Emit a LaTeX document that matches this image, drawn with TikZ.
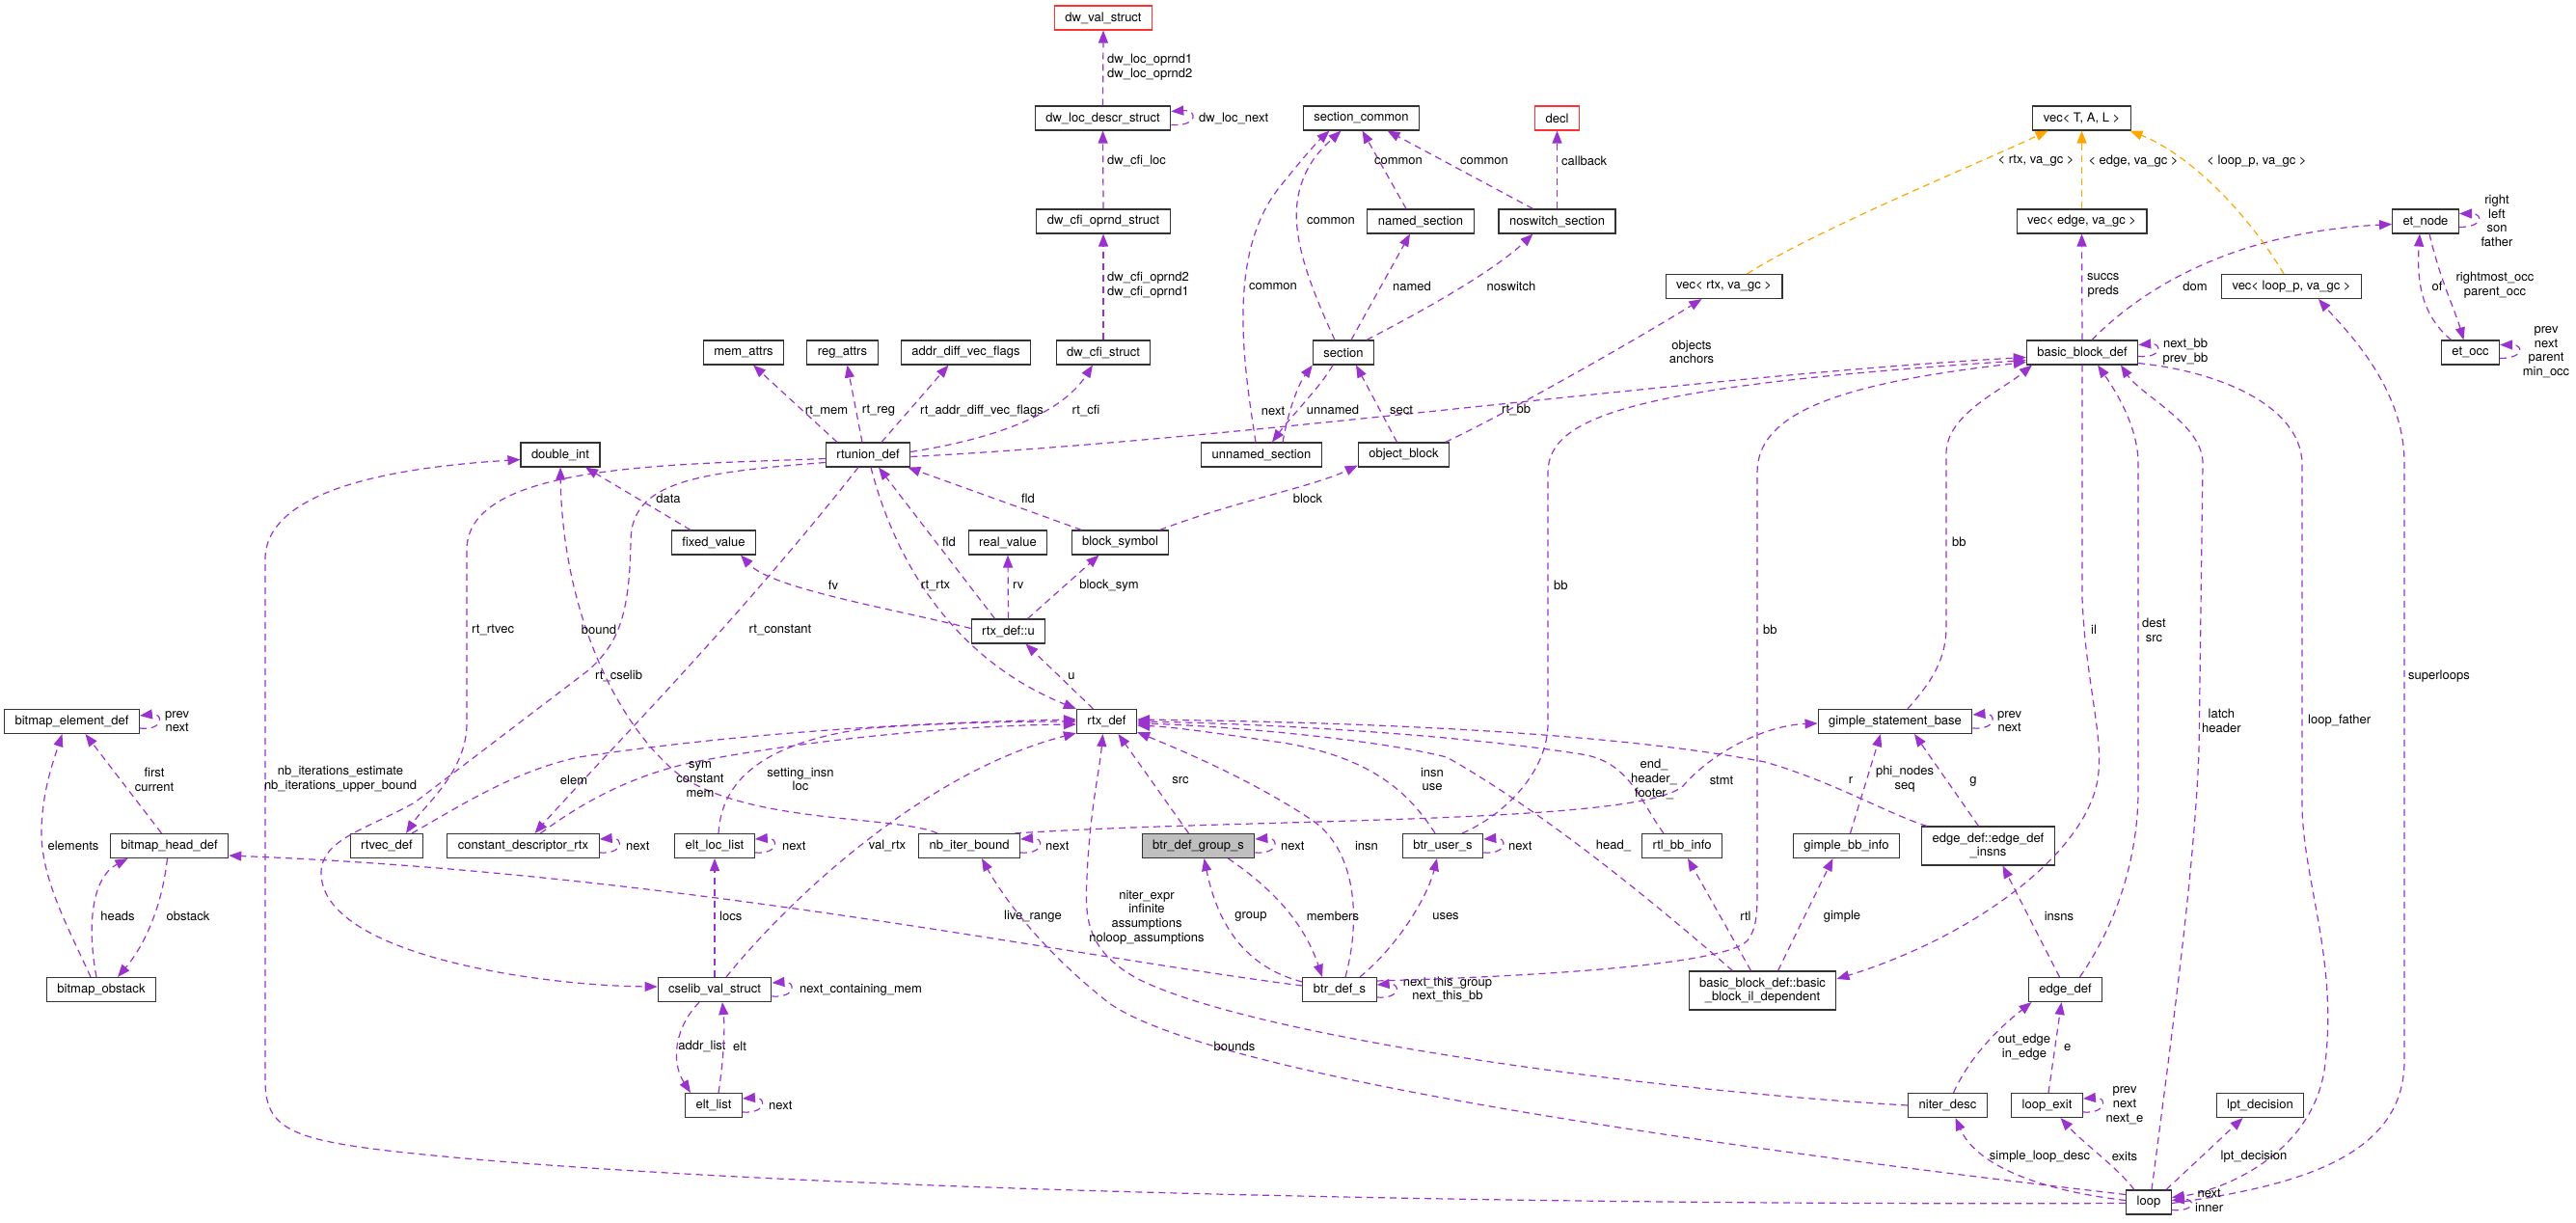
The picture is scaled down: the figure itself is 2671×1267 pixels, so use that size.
\documentclass[tikz,border=0pt]{standalone}
\usepackage{fontspec}
\setmainfont{TeX Gyre Heros}
\usetikzlibrary{arrows.meta}
\definecolor{edgec}{HTML}{9A32CD}
\definecolor{orng}{HTML}{FFA500}
\definecolor{grayfill}{HTML}{BFBFBF}
\definecolor{redb}{HTML}{FF3030}
\begin{document}
\begin{tikzpicture}[x=1pt,y=-1pt,
 every node/.style={font=\fontsize{13}{14.7}\selectfont},
 box/.style={draw=black!80,line width=1.1pt,fill=white,minimum height=25pt,inner xsep=11pt,inner ysep=0pt},
 box2/.style={box,minimum height=40pt,align=center},
 edg/.style={draw=edgec,line width=1.2pt,dash pattern=on 7pt off 5pt,-{Triangle[length=13pt,width=10pt]}},
 oedg/.style={edg,draw=orng},
 lbl/.style={inner sep=0pt,align=center},
 lw/.style={lbl,anchor=west}]
\useasboundingbox (0,0) rectangle (2671,1267);
% ---------------- nodes ----------------
\node[box,draw=redb] (dwval) at (1144,18.5) {dw\_val\_struct};
\node[box] (dwloc) at (1143.5,122.5) {dw\_loc\_descr\_struct};
\node[box] (dwcfiop) at (1144,229.5) {dw\_cfi\_oprnd\_struct};
\node[box] (memattrs) at (771,365.5) {mem\_attrs};
\node[box] (regattrs) at (873.5,365.5) {reg\_attrs};
\node[box] (addrdiff) at (1001.5,365.5) {addr\_diff\_vec\_flags};
\node[box] (dwcfi) at (1144,365.5) {dw\_cfi\_struct};
\node[box] (seccommon) at (1411.5,122.5) {section\_common};
\node[box,draw=redb] (decl) at (1614.5,122.5) {decl};
\node[box] (namedsec) at (1473,229.5) {named\_section};
\node[box] (noswitch) at (1614.5,229.5) {noswitch\_section};
\node[box] (section) at (1393,365.5) {section};
\node[box] (vecrtx) at (1787.5,297) {vec< rtx, va\_gc >};
\node[box] (vectal) at (2158.5,122.5) {vec< T, A, L >};
\node[box] (vecedge) at (2158.5,229.5) {vec< edge, va\_gc >};
\node[box] (etnode) at (2515,229.5) {et\_node};
\node[box] (vecloop) at (2376,297) {vec< loop\_p, va\_gc >};
\node[box] (bbdef) at (2159,365.5) {basic\_block\_def};
\node[box] (etocc) at (2561.5,365.5) {et\_occ};
\node[box] (doubleint) at (581,471.5) {double\_int};
\node[box] (bmelem) at (74.5,748) {bitmap\_element\_def};
\node[box] (rtunion) at (900,471.5) {rtunion\_def};
\node[box] (unnamed) at (1308,471.5) {unnamed\_section};
\node[box] (objblock) at (1455.5,471.5) {object\_block};
\node[box] (fixedval) at (740,562.5) {fixed\_value};
\node[box] (realval) at (1045,562.5) {real\_value};
\node[box] (blocksym) at (1161.5,562.5) {block\_symbol};
\node[box] (rtxu) at (1045.5,654.5) {rtx\_def::u};
\node[box] (rtx) at (1147.5,748) {rtx\_def};
\node[box] (gsb) at (1965,748) {gimple\_statement\_base};
\node[box] (bmhead) at (175.5,877) {bitmap\_head\_def};
\node[box] (rtvec) at (401,877) {rtvec\_def};
\node[box] (constdesc) at (542.5,877) {constant\_descriptor\_rtx};
\node[box] (bmobst) at (105,1026) {bitmap\_obstack};
\node[box] (eltloc) at (741,877) {elt\_loc\_list};
\node[box] (nbiter) at (1005,877) {nb\_iter\_bound};
\node[box,fill=grayfill] (btrgroup) at (1242.5,877) {btr\_def\_group\_s};
\node[box] (cselib) at (741,1026) {cselib\_val\_struct};
\node[box] (eltlist) at (740,1146) {elt\_list};
\node[box] (btruser) at (1496,877) {btr\_user\_s};
\node[box] (rtlbb) at (1744,877) {rtl\_bb\_info};
\node[box] (gimplebb) at (1914.5,877) {gimple\_bb\_info};
\node[box2] (edgeinsns) at (2061.5,877) {edge\_def::edge\_def\\\_insns};
\node[box] (btrdef) at (1389,1026) {btr\_def\_s};
\node[box2] (ildep) at (1827.5,1027) {basic\_block\_def::basic\\\_block\_il\_dependent};
\node[box] (niter) at (2019.5,1146) {niter\_desc};
\node[box] (edgedef) at (2141.5,1026) {edge\_def};
\node[box] (loopexit) at (2122.5,1146) {loop\_exit};
\node[box] (lpt) at (2343.5,1146) {lpt\_decision};
\node[box] (loop) at (2228,1246.5) {loop};
% ---------------- dwarf chain ----------------
\draw[edg] (dwloc.north) -- (dwval.south);
\node[lw] (l1) at (1148,70) {dw\_loc\_oprnd1\\dw\_loc\_oprnd2};
\draw[edg] ([yshift=-7pt]dwloc.east) .. controls +(28,2) and +(28,-2) .. ([yshift=7pt]dwloc.east);
\node[lw] (l2) at (1243,122.5) {dw\_loc\_next};
\draw[edg] (dwcfiop.north) -- (dwloc.south);
\node[lw] (l3) at (1148,167) {dw\_cfi\_loc};
\draw[edg] (dwcfi.north) -- (dwcfiop.south);
\node[lw] (l4) at (1148,296) {dw\_cfi\_oprnd2\\dw\_cfi\_oprnd1};
% ---------------- rtunion_def ----------------
\draw[edg] ([xshift=-32pt]rtunion.north) -- ([xshift=10pt]memattrs.south);
\node[lbl] (l5) at (857,426) {rt\_mem};
\draw[edg] ([xshift=-6pt]rtunion.north) -- ([xshift=5pt]regattrs.south);
\node[lbl] (l6) at (911,426) {rt\_reg};
\draw[edg] ([xshift=14pt]rtunion.north) -- ([xshift=-18pt]addrdiff.south);
\node[lbl] (l7) at (1018,426) {rt\_addr\_diff\_vec\_flags};
\draw[edg] ([yshift=3pt]rtunion.east) .. controls (1030,455) and (1100,430) .. ([xshift=-11pt]dwcfi.south);
\node[lbl] (l8) at (1126,426) {rt\_cfi};
\draw[edg] ([yshift=-2pt]rtunion.east) .. controls (1300,455) and (1750,390) .. ([yshift=-5pt]bbdef.west);
\node[lbl] (l9) at (1572,425) {rt\_bb};
\draw[edg] ([yshift=-4pt]rtunion.west) .. controls (700,482) and (484,480) .. (484,570) -- (484,750) .. controls (484,800) and (440,835) .. ([xshift=20pt]rtvec.north);
\node[lw] (l10) at (489,653) {rt\_rtvec};
\draw[edg] ([yshift=-8pt]rtunion.west) .. controls (720,490) and (655,500) .. (654,560) .. controls (653,640) and (640,668) .. (610,695) -- (430,832) .. controls (380,860) and (333,870) .. (333,905) .. controls (333,990) and (560,1022) .. ([yshift=3pt]cselib.west);
\node[lw] (l11) at (617,701) {rt\_cselib};
\draw[edg] ([xshift=-10pt]rtunion.south) .. controls (760,650) and (620,790) .. ([xshift=12pt]constdesc.north);
\node[lbl] (l12) at (809,653) {rt\_constant};
\draw[edg] ([xshift=3pt]rtunion.south) .. controls (925,570) and (980,680) .. (rtx.north west);
\node[lbl] (l13) at (970,607) {rt\_rtx};
\draw[edg] ([xshift=-14pt]rtxu.north) -- ([xshift=11pt]rtunion.south);
\node[lbl] (l14) at (984,562) {fld};
\draw[edg] ([xshift=-40pt]blocksym.north) -- ([xshift=-3pt]rtunion.south east);
\node[lbl] (l15) at (1066,517) {fld};
\draw[edg] ([xshift=-10pt]blocksym.north east) .. controls (1280,520) and (1360,505) .. ([yshift=2pt]objblock.south west);
\node[lbl] (l16) at (1356,517) {block};
\draw[edg] ([yshift=3pt]rtxu.west) .. controls (920,630) and (800,610) .. ([xshift=28pt]fixedval.south);
\node[lbl] (l17) at (864,607) {fv};
\draw[edg] (rtxu.north) -- (realval.south);
\node[lw] (l18) at (1050,607) {rv};
\draw[edg] ([xshift=20pt]rtxu.north) -- ([xshift=-22pt]blocksym.south);
\node[lbl] (l19) at (1150,607) {block\_sym};
\draw[edg] ([xshift=-14pt]rtx.north) -- ([xshift=18pt]rtxu.south);
\node[lbl] (l20) at (1111,701) {u};
\draw[edg] ([xshift=-24pt]fixedval.north) -- ([xshift=26pt]doubleint.south);
\node[lbl] (l21) at (693,517) {data};
% ---------------- double_int ----------------
\draw[edg] ([xshift=-33pt]nbiter.north) .. controls (930,845) and (770,855) .. (700,800) .. controls (630,740) and (583,620) .. (doubleint.south);
\node[lbl] (l22) at (621,653) {bound};
\draw[edg] ([yshift=-1pt]loop.west) .. controls (1600,1250) and (800,1235) .. (420,1195) .. controls (300,1182) and (275,1170) .. (275,1120) -- (275,580) .. controls (275,510) and (400,485) .. ([yshift=-5pt]doubleint.west);
\node[lbl] (l23) at (353,808) {nb\_iterations\_estimate\\nb\_iterations\_upper\_bound};
% ---------------- bitmaps ----------------
\draw[edg] ([xshift=-8pt]bmhead.north) -- ([xshift=14pt]bmelem.south);
\node[lbl] (l24) at (160,808) {first\\current};
\draw[edg] ([xshift=-11pt]bmobst.north) .. controls (70,960) and (42,910) .. (43,860) .. controls (44,820) and (55,790) .. ([xshift=-10pt]bmelem.south);
\node[lbl] (l25) at (76,877) {elements};
\draw[edg] ([xshift=-5pt]bmobst.north) .. controls (90,960) and (95,910) .. ([xshift=-43pt]bmhead.south);
\node[lbl] (l26) at (122,950) {heads};
\draw[edg] ([xshift=-2pt]bmhead.south) .. controls (168,940) and (150,980) .. ([xshift=17pt]bmobst.north);
\node[lbl] (l27) at (195,950) {obstack};
\draw[edg] ([yshift=-7pt]bmelem.east) .. controls +(25,3) and +(25,-3) .. ([yshift=6pt]bmelem.east);
\node[lw] (l28) at (171,748) {prev\\next};
\draw[edg] ([yshift=4pt]btrdef.west) .. controls (1100,990) and (700,905) .. ([yshift=3pt]bmhead.south east);
\node[lbl] (l29) at (1071,950) {live\_range};
% ---------------- nb_iter_bound ----------------
\draw[edg] ([yshift=-7pt]nbiter.east) .. controls +(25,2) and +(25,-2) .. ([yshift=7pt]nbiter.east);
\node[lw] (l30) at (1084,877) {next};
\draw[edg] ([xshift=-6pt]nbiter.north east) .. controls (1300,848) and (1700,855) .. (1745,815) .. controls (1775,780) and (1830,752) .. ([yshift=-2pt]gsb.west);
\node[lbl] (l31) at (1785,809) {stmt};
% ---------------- gimple ----------------
\draw[edg] ([yshift=-7pt]gsb.east) .. controls +(25,2) and +(25,-2) .. ([yshift=7pt]gsb.east);
\node[lw] (l32) at (2071,748) {prev\\next};
\draw[edg] ([xshift=13pt]gsb.north) .. controls (1995,715) and (2018,690) .. (2018,650) -- (2018,470) .. controls (2018,430) and (2075,405) .. ([xshift=-52pt]bbdef.south);
\node[lw] (l33) at (2024,562) {bb};
\draw[edg] ([xshift=4pt]gimplebb.north) -- ([xshift=-15pt]gsb.south);
\node[lbl] (l34) at (1975,808) {phi\_nodes\\seq};
\draw[edg] ([xshift=-10pt]edgeinsns.north) -- ([xshift=20pt]gsb.south);
\node[lbl] (l35) at (2046,810) {g};
% ---------------- into rtx_def ----------------
\draw[edg] ([xshift=6pt]edgeinsns.north west) .. controls (1960,845) and (1900,810) .. (1830,790) .. controls (1650,755) and (1350,748) .. ([yshift=2pt]rtx.east);
\node[lbl] (l36) at (1919,809) {r};
\draw[edg] ([xshift=-8pt]btruser.north) .. controls (1460,820) and (1420,785) .. (1330,770) .. controls (1260,760) and (1220,754) .. ([yshift=-4pt]rtx.east);
\node[lbl] (l37) at (1485,808) {insn\\use};
\draw[edg] ([xshift=-19pt]rtlbb.north) .. controls (1700,830) and (1690,790) .. (1640,782) .. controls (1500,760) and (1300,750) .. (rtx.east);
\node[lbl] (l38) at (1715,808) {end\_\\header\_\\footer\_};
\draw[edg] ([xshift=-31pt]ildep.north) .. controls (1680,905) and (1580,830) .. (1500,785) .. controls (1420,765) and (1260,752) .. ([yshift=-2pt]rtx.east);
\node[lbl] (l39) at (1673,877) {head\_};
\draw[edg] ([xshift=6pt]btrdef.north) .. controls (1412,950) and (1405,880) .. (1360,850) .. controls (1300,810) and (1230,780) .. ([yshift=2pt]rtx.south east);
\node[lbl] (l40) at (1417,877) {insn};
\draw[edg] ([xshift=-10pt]btrgroup.north) -- ([xshift=12pt]rtx.south);
\node[lbl] (l41) at (1224,809) {src};
\draw[edg] (niter.west) .. controls (1700,1130) and (1300,1075) .. (1180,1015) .. controls (1125,985) and (1125,950) .. (1127,910) .. controls (1130,840) and (1140,800) .. ([xshift=-4pt]rtx.south);
\node[lbl] (l42) at (1189,951) {niter\_expr\\infinite\\assumptions\\noloop\_assumptions};
\draw[edg] ([xshift=12pt]cselib.north) .. controls (820,930) and (960,800) .. ([yshift=1pt]rtx.south west);
\node[lbl] (l43) at (920,877) {val\_rtx};
\draw[edg] ([xshift=4pt]eltloc.north) .. controls (748,810) and (790,770) .. (900,755) .. controls (1000,748) and (1080,748) .. (rtx.west);
\node[lbl] (l44) at (830,808) {setting\_insn\\loc};
\draw[edg] ([xshift=26pt]rtvec.north) .. controls (470,840) and (530,800) .. (600,785) .. controls (800,755) and (1000,748) .. ([yshift=2pt]rtx.west);
\node[lbl] (l45) at (595,809) {elem};
\draw[edg] ([xshift=18pt]constdesc.north) .. controls (600,835) and (650,805) .. (720,790) .. controls (850,765) and (1000,752) .. ([yshift=-3pt]rtx.west);
\node[lbl] (l46) at (726,808) {sym\\constant\\mem};
\draw[edg] ([yshift=-7pt]constdesc.east) .. controls +(25,2) and +(25,-2) .. ([yshift=7pt]constdesc.east);
\node[lw] (l47) at (649,877) {next};
% ---------------- cselib ----------------
\draw[edg] ([yshift=-7pt]eltloc.east) .. controls +(25,2) and +(25,-2) .. ([yshift=7pt]eltloc.east);
\node[lw] (l48) at (811,877) {next};
\draw[edg] (cselib.north) -- (eltloc.south);
\node[lw] (l49) at (746,950) {locs};
\draw[edg] ([yshift=-7pt]cselib.east) .. controls +(25,2) and +(25,-2) .. ([yshift=7pt]cselib.east);
\node[lw] (l50) at (829,1026) {next\_containing\_mem};
\draw[edg] ([xshift=-16pt]cselib.south) .. controls (700,1065) and (695,1100) .. ([xshift=-24pt]eltlist.north);
\node[lbl] (l51) at (728,1085) {addr\_list};
\draw[edg] ([xshift=5pt]eltlist.north) .. controls (750,1100) and (752,1070) .. ([xshift=8pt]cselib.south);
\node[lbl] (l52) at (767,1085) {elt};
\draw[edg] ([yshift=-7pt]eltlist.east) .. controls +(25,2) and +(25,-2) .. ([yshift=7pt]eltlist.east);
\node[lw] (l53) at (797,1146) {next};
% ---------------- btr ----------------
\draw[edg] ([yshift=-7pt]btrgroup.east) .. controls +(25,2) and +(25,-2) .. ([yshift=7pt]btrgroup.east);
\node[lw] (l54) at (1328,877) {next};
\draw[edg] ([xshift=31pt]btrgroup.south) .. controls (1310,915) and (1350,950) .. ([xshift=-18pt]btrdef.north);
\node[lbl] (l55) at (1382,950) {members};
\draw[edg] ([yshift=8pt]btrdef.west) .. controls (1300,1005) and (1265,970) .. ([xshift=6pt]btrgroup.south);
\node[lbl] (l56) at (1297,950) {group};
\draw[edg] ([xshift=21pt]btrdef.north) .. controls (1450,980) and (1480,930) .. ([xshift=-6pt]btruser.south);
\node[lbl] (l57) at (1499,950) {uses};
\draw[edg] ([yshift=-7pt]btruser.east) .. controls +(25,2) and +(25,-2) .. ([yshift=7pt]btruser.east);
\node[lw] (l58) at (1564,877) {next};
\draw[edg] ([yshift=-8pt]btrdef.east) .. controls +(25,2) and +(25,-2) .. ([yshift=5pt]btrdef.east);
\node[lbl] (l59) at (1501,1026) {next\_this\_group\\next\_this\_bb};
\draw[edg] ([yshift=-4pt]btrdef.north east) .. controls (1600,1012) and (1790,1000) .. (1812,975) .. controls (1822,962) and (1822,945) .. (1822,920) -- (1822,490) .. controls (1822,430) and (1900,398) .. ([yshift=-10pt]bbdef.west);
\node[lw] (l60) at (1828,653) {bb};
\draw[edg] ([xshift=20pt]btruser.north) .. controls (1560,845) and (1605,800) .. (1605,750) -- (1605,490) .. controls (1605,430) and (1700,400) .. ([yshift=-8pt]bbdef.west);
\node[lw] (l61) at (1611,607) {bb};
% ---------------- basic block ----------------
\draw[edg] ([xshift=-12pt]ildep.north) -- ([xshift=6pt]rtlbb.south);
\node[lbl] (l62) at (1810,950) {rtl};
\draw[edg] ([xshift=16pt]ildep.north) -- ([xshift=-14pt]gimplebb.south);
\node[lbl] (l63) at (1910,950) {gimple};
\draw[edg] (bbdef.south) -- (2159,620) .. controls (2162,700) and (2180,760) .. (2176,800) .. controls (2170,880) and (2050,970) .. ([yshift=12pt]ildep.east);
\node[lw] (l64) at (2168,653) {il};
\draw[edg] ([xshift=-6pt]edgedef.north) -- ([xshift=15pt]edgeinsns.south);
\node[lbl] (l65) at (2135,950) {insns};
\draw[edg] ([xshift=15pt]edgedef.north) .. controls (2200,950) and (2217,880) .. (2217,820) -- (2217,480) .. controls (2217,440) and (2190,400) .. ([xshift=16pt]bbdef.south);
\node[lw] (l66) at (2221,653) {dest\\src};
\draw[edg] ([xshift=3pt]loop.north) .. controls (2255,1050) and (2275,900) .. (2280,780) -- (2284,480) .. controls (2284,440) and (2220,410) .. ([xshift=40pt]bbdef.south);
\node[lw] (l67) at (2283,747) {latch\\header};
\draw[edg] ([yshift=2pt]bbdef.south east) .. controls (2300,385) and (2385,420) .. (2387,480) -- (2387,840) .. controls (2390,920) and (2425,1000) .. (2410,1110) .. controls (2395,1200) and (2300,1235) .. ([yshift=5pt]loop.east);
\node[lw] (l68) at (2393,747) {loop\_father};
\draw[edg] ([yshift=-1pt]loop.east) .. controls (2380,1230) and (2493,1200) .. (2493,1100) -- (2493,480) .. controls (2493,400) and (2430,340) .. ([xshift=28pt]vecloop.south);
\node[lw] (l69) at (2497,701) {superloops};
\draw[edg] ([xshift=10pt]bbdef.north) .. controls (2230,290) and (2330,240) .. ([yshift=-3pt]etnode.west);
\node[lbl] (l70) at (2276,297) {dom};
\draw[edg] (bbdef.north) -- (vecedge.south);
\node[lw] (l71) at (2164,296) {succs\\preds};
\draw[edg] ([yshift=-4pt]bbdef.east) .. controls +(25,2) and +(25,-2) .. ([yshift=8pt]bbdef.east);
\node[lbl] (l72) at (2266,365) {next\_bb\\prev\_bb};
% ---------------- vec templates ----------------
\draw[oedg] (vecedge.north) -- (vectal.south);
\node[lbl] (l73) at (2212,167) {< edge, va\_gc >};
\draw[oedg] ([xshift=24pt]vecrtx.north) .. controls (1880,240) and (2050,170) .. ([xshift=-35pt]vectal.south);
\node[lbl] (l74) at (2111,167) {< rtx, va\_gc >};
\draw[oedg] ([xshift=-8pt]vecloop.north) .. controls (2330,220) and (2270,160) .. ([xshift=50pt]vectal.south);
\node[lbl] (l75) at (2340,167) {< loop\_p, va\_gc >};
% ---------------- et ----------------
\draw[edg] ([yshift=-6pt]etnode.east) .. controls +(25,0) and +(25,0) .. ([yshift=8pt]etnode.east);
\node[lbl] (l76) at (2589,229) {right\\left\\son\\father};
\draw[edg] ([xshift=4pt]etnode.south) .. controls (2530,290) and (2545,320) .. ([xshift=-7pt]etocc.north);
\node[lbl] (l77) at (2587,296) {rightmost\_occ\\parent\_occ};
\draw[edg] ([xshift=-20pt]etocc.north) .. controls (2515,330) and (2505,300) .. ([xshift=-6pt]etnode.south);
\node[lbl] (l78) at (2527,297) {of};
\draw[edg] ([yshift=-6pt]etocc.east) .. controls +(25,0) and +(25,0) .. ([yshift=8pt]etocc.east);
\node[lbl] (l79) at (2640,365) {prev\\next\\parent\\min\_occ};
% ---------------- sections ----------------
\draw[edg] ([xshift=43pt]objblock.north) .. controls (1560,430) and (1700,350) .. ([xshift=-23pt]vecrtx.south);
\node[lbl] (l80) at (1754,365) {objects\\anchors};
\draw[edg] ([xshift=-7pt]objblock.north) -- ([xshift=13pt]section.south);
\node[lbl] (l81) at (1453,425) {sect};
\draw[edg] ([xshift=-11pt]section.south) .. controls (1370,400) and (1340,430) .. ([xshift=11pt]unnamed.north);
\node[lbl] (l82) at (1382,425) {unnamed};
\draw[edg] ([xshift=22pt]unnamed.north) .. controls (1335,430) and (1345,400) .. (section.south west);
\node[lbl] (l83) at (1320,426) {next};
\draw[edg] ([xshift=-6pt]unnamed.north) .. controls (1290,380) and (1270,260) .. (1330,190) .. controls (1350,165) and (1365,148) .. ([xshift=-33pt]seccommon.south);
\node[lbl] (l84) at (1320,297) {common};
\draw[edg] ([xshift=-9pt]section.north) .. controls (1360,300) and (1340,250) .. (1345,210) .. controls (1350,170) and (1375,150) .. ([xshift=-21pt]seccommon.south);
\node[lbl] (l85) at (1380,229) {common};
\draw[edg] ([xshift=8pt]section.north) -- ([xshift=-11pt]namedsec.south);
\node[lbl] (l86) at (1464,297) {named};
\draw[edg] ([xshift=24pt]section.north) .. controls (1480,320) and (1550,280) .. ([xshift=-25pt]noswitch.south);
\node[lbl] (l87) at (1567,297) {noswitch};
\draw[edg] ([xshift=-15pt]namedsec.north) -- ([xshift=1pt]seccommon.south);
\node[lbl] (l88) at (1450,167) {common};
\draw[edg] ([xshift=-25pt]noswitch.north) -- ([xshift=27pt]seccommon.south);
\node[lbl] (l89) at (1539,167) {common};
\draw[edg] (noswitch.north) -- (decl.south);
\node[lw] (l90) at (1619,167) {callback};
% ---------------- loop ----------------
\draw[edg] ([xshift=6pt]niter.north) .. controls (2045,1090) and (2080,1060) .. ([xshift=-35pt]edgedef.south);
\node[lbl] (l91) at (2099,1086) {out\_edge\\in\_edge};
\draw[edg] ([xshift=1.5pt]loopexit.north) -- ([xshift=-4pt]edgedef.south);
\node[lw] (l92) at (2140,1086) {e};
\draw[edg] ([yshift=-7pt]loopexit.east) .. controls +(25,2) and +(25,-2) .. ([yshift=7pt]loopexit.east);
\node[lbl] (l93) at (2203,1146) {prev\\next\\next\_e};
\draw[edg] ([yshift=2pt]loop.west) .. controls (2120,1235) and (2050,1210) .. ([xshift=8pt]niter.south);
\node[lbl] (l94) at (2115,1199) {simple\_loop\_desc};
\draw[edg] ([xshift=-15pt]loop.north) .. controls (2195,1210) and (2160,1185) .. ([xshift=14pt]loopexit.south);
\node[lbl] (l95) at (2203,1199) {exits};
\draw[edg] ([xshift=18pt]loop.north) -- ([xshift=-18pt]lpt.south);
\node[lbl] (l96) at (2337,1199) {lpt\_decision};
\draw[edg] ([yshift=-8pt]loop.east) .. controls +(25,2) and +(25,-2) .. ([yshift=2pt]loop.east);
\node[lw] (l97) at (2276,1245) {next\\inner};
\draw[edg] ([yshift=8pt]loop.west) .. controls (1700,1180) and (1250,1110) .. (1150,1040) .. controls (1080,985) and (1040,930) .. ([xshift=13pt]nbiter.south);
\node[lbl] (l98) at (1280,1085) {bounds};
\end{tikzpicture}
\end{document}
